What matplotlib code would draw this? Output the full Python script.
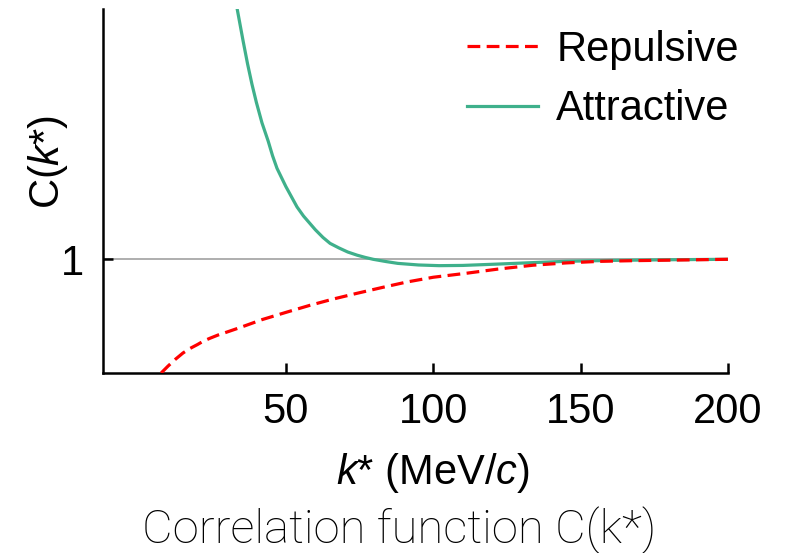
import matplotlib
matplotlib.use("Agg")
import matplotlib.pyplot as plt

# values
k_rep = [7.7, 10, 12.5, 15.1, 17.5, 20, 22, 24.3, 27, 30, 34.5, 42, 50.4, 58,
         66, 74, 83, 91, 100, 111.5, 122, 133.9, 145, 156.6, 168, 179.3, 190,
         200]
c_rep = [0.50, 0.53, 0.56, 0.588, 0.608, 0.625, 0.64, 0.653, 0.667, 0.68,
         0.70, 0.735, 0.768, 0.797, 0.825, 0.85, 0.877, 0.90, 0.921, 0.939,
         0.957, 0.974, 0.984, 0.991, 0.994, 0.996, 0.998, 1.0]

k_att = [33.5, 34.5, 35.5, 37, 38.5, 40, 41.9, 44, 45.5, 47, 50, 53.8, 56,
         58, 60, 62.6, 65, 68, 71, 74.2, 77, 79.6, 84, 88, 95, 102, 110, 122,
         135, 145, 160, 180, 200]
c_att = [2.10, 2.03, 1.96, 1.86, 1.77, 1.69, 1.60, 1.52, 1.455, 1.40, 1.32,
         1.23, 1.19, 1.16, 1.13, 1.096, 1.07, 1.05, 1.032, 1.018, 1.008, 1.0,
         0.99, 0.982, 0.975, 0.972, 0.973, 0.979, 0.986, 0.991, 0.995, 0.998,
         1.0]

xticks = [50, 100, 150, 200]
yticks = [1]

plt.rcParams["font.family"] = ["Liberation Sans", "DejaVu Sans"]
plt.rcParams["mathtext.fontset"] = "custom"
plt.rcParams["mathtext.it"] = "Liberation Sans:italic"
plt.rcParams["mathtext.rm"] = "Liberation Sans"

fig = plt.figure(figsize=(7.87, 5.53), dpi=100)
ax = fig.add_axes([0.131, 0.3255, 0.794, 0.658])

ax.axhline(1, color="#999999", lw=1.1, zorder=1)
ax.plot(k_rep, c_rep, color="#ff0000", lw=2.3, ls=(0, (4, 2)),
        label="Repulsive", zorder=3)
ax.plot(k_att, c_att, color="#3fb08b", lw=2.3, label="Attractive", zorder=2)

ax.set_xlim(-12, 200)
ax.set_ylim(0.5, 2.1)
ax.set_xticks(xticks)
ax.set_yticks(yticks)
ax.tick_params(direction="in", length=7, width=1.8, labelsize=30)
ax.tick_params(axis="x", pad=14)
ax.tick_params(axis="y", pad=14)
for s in ("top", "right"):
    ax.spines[s].set_visible(False)
for s in ("left", "bottom"):
    ax.spines[s].set_linewidth(1.8)

ax.set_xlabel(r"$k$* (MeV/$c$)", fontsize=30)
ax.xaxis.set_label_coords(0.528, -0.215)
ax.set_ylabel(r"C($k$*)", fontsize=30)
ax.yaxis.set_label_coords(-0.053, 0.58)

ax.legend(loc="upper left", bbox_to_anchor=(0.593, 0.946), frameon=False,
          fontsize=30, handlelength=1.7, handletextpad=0.45,
          labelspacing=0.47, borderaxespad=0, borderpad=0,
          bbox_transform=fig.transFigure)

fig.text(0.507, 0.042, "Correlation function C(k*)", ha="center",
         va="center", fontsize=34, family=["Roboto", "Liberation Sans"],
         fontweight="light")

fig.savefig("out.png", dpi=100)
